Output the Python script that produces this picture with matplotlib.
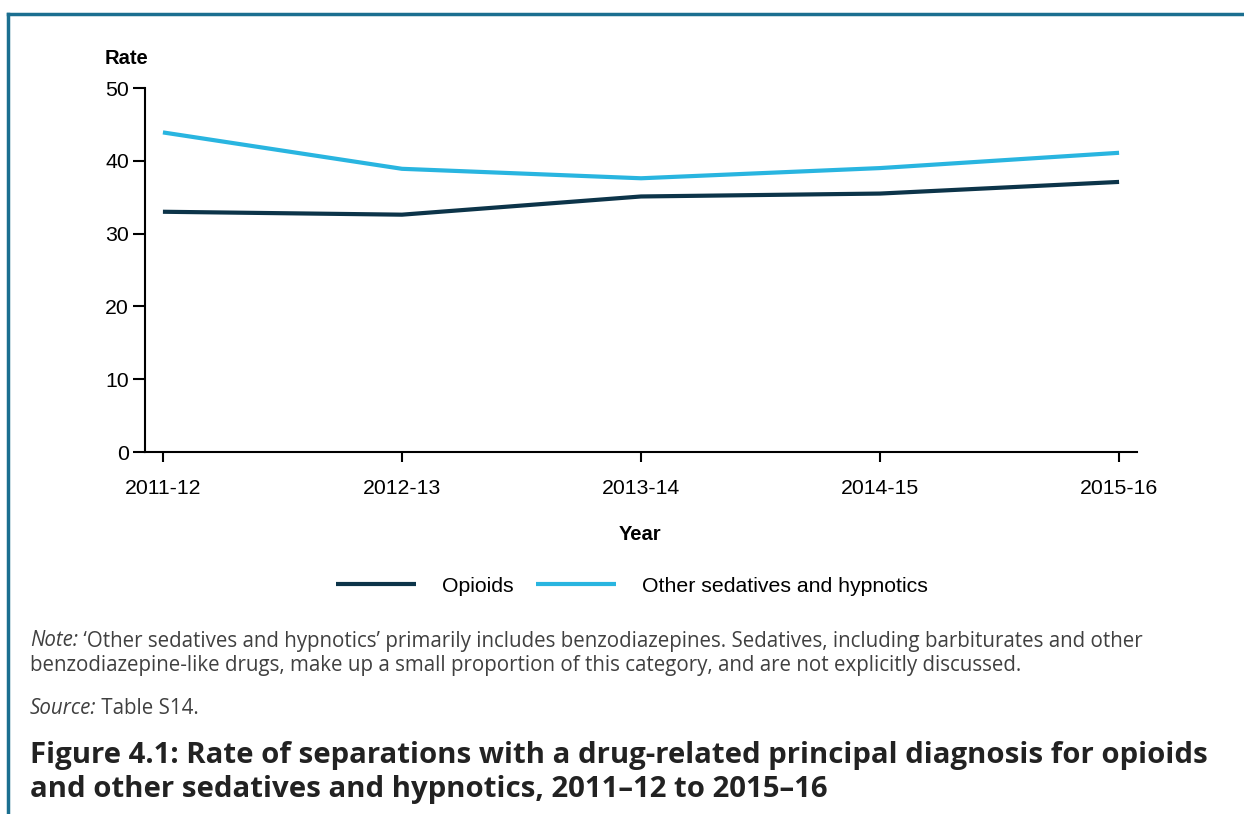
import matplotlib.pyplot as plt
from matplotlib.lines import Line2D

years = ['2011-12', '2012-13', '2013-14', '2014-15', '2015-16']
opioids = [33.0, 32.6, 35.1, 35.5, 37.1]
other_sedatives = [43.9, 38.9, 37.6, 39.0, 41.1]

dark = '#0c3449'
light = '#29b5e0'
border = '#1b6f90'

W, H = 1244, 814
fig = plt.figure(figsize=(W / 100, H / 100), dpi=100)

# frame around the figure (top and left edges)
fig.add_artist(Line2D([8 / W, 1], [1 - 14 / H, 1 - 14 / H], color=border, lw=2.5))
fig.add_artist(Line2D([8 / W, 8 / W], [0, 1 - 14 / H], color=border, lw=2.5))

ax = fig.add_axes([145 / W, 1 - 452 / H, (1137 - 145) / W, (452 - 88) / H])
x = range(len(years))
ax.plot(x, opioids, color=dark, lw=3, solid_capstyle='butt', label='Opioids')
ax.plot(x, other_sedatives, color=light, lw=3, solid_capstyle='butt',
        label='Other sedatives and hypnotics')

ax.set_xlim(-0.075, 4.075)
ax.set_ylim(0, 50)
ax.set_yticks(range(0, 51, 10))
ax.set_xticks(list(x))
ax.set_xticklabels(years)
for s in ['top', 'right']:
    ax.spines[s].set_visible(False)
for s in ['left', 'bottom']:
    ax.spines[s].set_linewidth(1.5)
ax.tick_params(axis='y', length=8.5, width=1.5, pad=3, labelsize=15.3)
ax.tick_params(axis='x', length=7.5, width=1.5, pad=12, labelsize=15.3)
for lab in ax.get_xticklabels() + ax.get_yticklabels():
    lab.set_family('Liberation Sans')

fig.text(126 / W, 1 - 58 / H, 'Rate', fontsize=14.5, fontweight='bold',
         family='Liberation Sans', ha='center', va='center')
fig.text(640 / W, 1 - 535 / H, 'Year', fontsize=14.5, fontweight='bold',
         family='Liberation Sans', ha='center', va='center')

leg = fig.legend(loc='center', bbox_to_anchor=(632 / W, 1 - 586 / H), ncol=2,
                 frameon=False, prop={'family': 'Liberation Sans', 'size': 15.3},
                 handlelength=3.76, handletextpad=1.2, columnspacing=1.08)

renderer = fig.canvas.get_renderer()


def styled_line(parts, y, **kw):
    # draw text pieces one after another on the same baseline
    xpos = 30
    for txt, st in parts:
        t = fig.text(xpos / W, 1 - y / H, txt, style=st, **kw)
        xpos += t.get_window_extent(renderer).width


note_style = dict(fontsize=14.8, color='#404040', family='Open Sans', va='center')
styled_line([('Note:', 'italic'),
             (" \u2018Other sedatives and hypnotics\u2019 primarily includes benzodiazepines. "
              "Sedatives, including barbiturates and other", 'normal')], 641, **note_style)
styled_line([('benzodiazepine-like drugs, make up a small proportion of this category, '
              'and are not explicitly discussed.', 'normal')], 665, **note_style)
styled_line([('Source:', 'italic'), (' Table S14.', 'normal')], 708, **note_style)

title_style = dict(fontsize=21.2, fontweight='bold', color='#222222',
                   family='Open Sans', va='center')
fig.text(30 / W, 1 - 755 / H,
         'Figure 4.1: Rate of separations with a drug-related principal diagnosis for opioids',
         **title_style)
fig.text(30 / W, 1 - 790 / H,
         'and other sedatives and hypnotics, 2011\u201312 to 2015\u201316', **title_style)

fig.savefig('out.png', dpi=100)
